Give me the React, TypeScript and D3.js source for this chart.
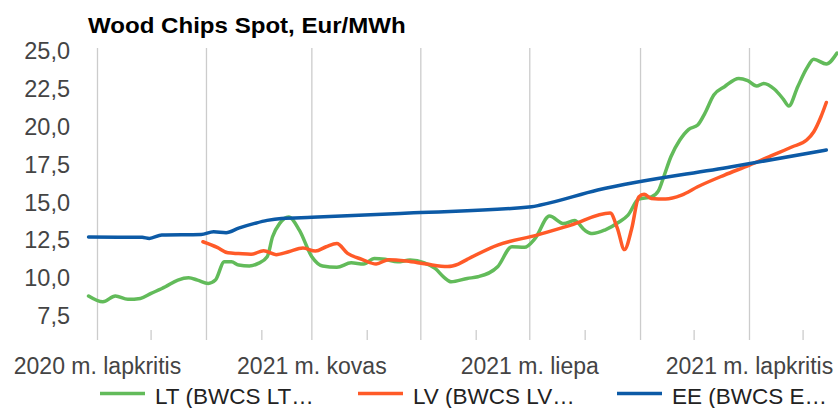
import React from "react";
import * as d3 from "d3";

const title = "Wood Chips Spot, Eur/MWh";
const yTicks = [7.5, 10, 12.5, 15, 17.5, 20, 22.5, 25];
const gridMonths = ["2020-11-01", "2021-01-01", "2021-03-01", "2021-05-01", "2021-07-01", "2021-09-01", "2021-11-01"];
const minorMonths = ["2020-12-01", "2021-02-01", "2021-04-01", "2021-06-01", "2021-08-01", "2021-10-01", "2021-12-01"];
const xLabelDates = ["2020-11-01", "2021-03-01", "2021-07-01", "2021-11-01"];
const xLabels = ["2020 m. lapkritis", "2021 m. kovas", "2021 m. liepa", "2021 m. lapkritis"];

const ltDates = ["2020-10-27","2020-11-04","2020-11-11","2020-11-18","2020-11-25","2020-12-01","2020-12-09","2020-12-16","2020-12-22","2020-12-27","2021-01-02","2021-01-06","2021-01-11","2021-01-15","2021-01-19","2021-01-25","2021-01-30","2021-02-04","2021-02-07","2021-02-11","2021-02-16","2021-02-22","2021-03-01","2021-03-07","2021-03-15","2021-03-23","2021-03-30","2021-04-05","2021-04-11","2021-04-18","2021-04-25","2021-05-03","2021-05-09","2021-05-14","2021-05-18","2021-05-27","2021-06-02","2021-06-13","2021-06-21","2021-06-28","2021-07-04","2021-07-12","2021-07-20","2021-07-26","2021-08-01","2021-08-05","2021-08-12","2021-08-20","2021-08-25","2021-08-31","2021-09-07","2021-09-11","2021-09-14","2021-09-18","2021-09-23","2021-09-28","2021-10-03","2021-10-07","2021-10-12","2021-10-18","2021-10-26","2021-10-31","2021-11-05","2021-11-09","2021-11-15","2021-11-20","2021-11-23","2021-11-28","2021-12-03","2021-12-07","2021-12-14","2021-12-20"];
const ltValues = [8.82,8.44,8.82,8.6,8.66,8.99,9.43,9.87,10.02,9.87,9.65,9.87,11.08,11.08,10.86,10.8,10.97,11.41,12.73,13.61,14.03,13.17,11.41,10.8,10.71,11.01,10.93,11.3,11.24,11.08,11.19,11.01,10.64,10.05,9.76,9.98,10.09,10.75,12.07,12.03,12.62,14.1,13.6,13.8,13.14,12.94,13.17,13.7,14.16,15.22,15.35,15.75,16.69,18.01,19.11,19.82,20.1,20.87,22.08,22.63,23.18,23.03,22.68,22.85,22.46,21.8,21.36,22.63,23.84,24.44,24.13,24.85];

const lvDates = ["2020-12-30","2021-01-07","2021-01-13","2021-01-19","2021-01-26","2021-02-02","2021-02-09","2021-02-16","2021-02-24","2021-03-03","2021-03-09","2021-03-15","2021-03-21","2021-03-29","2021-04-06","2021-04-13","2021-04-23","2021-05-04","2021-05-16","2021-05-22","2021-05-27","2021-06-13","2021-07-05","2021-07-24","2021-08-15","2021-08-19","2021-08-23","2021-08-27","2021-08-31","2021-09-03","2021-09-07","2021-09-15","2021-09-24","2021-10-03","2021-10-18","2021-11-01","2021-11-14","2021-11-25","2021-12-03","2021-12-07","2021-12-11","2021-12-14"];
const lvValues = [12.4,12.03,11.67,11.62,11.57,11.81,11.55,11.74,11.98,11.79,12.07,12.28,11.63,11.24,10.93,11.22,11.13,10.93,10.76,10.93,11.24,12.18,12.84,13.5,14.29,13.3,11.88,13.24,15.35,15.53,15.26,15.22,15.48,16.03,16.8,17.46,18.12,18.67,19.11,19.66,20.65,21.59];

const eeDates = ["2020-10-27","2020-11-26","2020-11-30","2020-12-07","2020-12-29","2021-01-05","2021-01-12","2021-01-19","2021-01-28","2021-02-04","2021-02-12","2021-03-01","2021-04-27","2021-07-02","2021-07-07","2021-08-08","2021-10-22","2021-12-14"];
const eeValues = [12.71,12.69,12.62,12.84,12.87,13.06,13.0,13.3,13.61,13.81,13.94,14.01,14.31,14.71,14.82,15.81,17.35,18.45];

const legendNames = ["LT (BWCS LT…", "LV (BWCS LV…", "EE (BWCS E…"];
const colors = ["#62bb5a", "#ff5a28", "#0c5aa6"];

const W = 838;
const H = 408;
const parse = d3.timeParse("%Y-%m-%d");

export default function App() {
  const x = d3.scaleTime()
    .domain([parse("2020-11-01")!, parse("2021-11-01")!])
    .range([97.5, 749.5]);
  const y = d3.scaleLinear().domain([7.5, 25]).range([316, 50.8]);
  const plotTop = 48;
  const plotBottom = 340;

  const line = d3.line<[Date, number]>()
    .x((d) => x(d[0]))
    .y((d) => y(d[1]))
    .curve(d3.curveMonotoneX);

  const series = [
    { dates: ltDates, values: ltValues },
    { dates: lvDates, values: lvValues },
    { dates: eeDates, values: eeValues },
  ].map((s) => s.dates.map((d, i) => [parse(d)!, s.values[i]] as [Date, number]));

  const fmt = (v: number) => v.toFixed(1).replace(".", ",");
  const font = "'Liberation Sans', Arial, sans-serif";
  const legendX = [100, 358, 617];

  return (
    <svg width={W} height={H} style={{ position: "absolute", left: 0, top: 0 }} fontFamily={font}>
      <rect width={W} height={H} fill="#ffffff" />
      <defs>
        <clipPath id="plot">
          <rect x={80} y={40} width={W - 80} height={310} />
        </clipPath>
      </defs>
      <text x={88} y={33} fontSize={22.5} fontWeight="bold" fill="#000" transform="translate(88,0) scale(1.07,1) translate(-88,0)">
        {title}
      </text>
      {gridMonths.map((d) => (
        <line key={d} x1={x(parse(d)!)} x2={x(parse(d)!)} y1={plotTop} y2={plotBottom} stroke="#cccccc" strokeWidth={1.3} />
      ))}
      {minorMonths.map((d) => (
        <line key={d} x1={x(parse(d)!)} x2={x(parse(d)!)} y1={plotBottom - 10} y2={plotBottom} stroke="#cccccc" strokeWidth={1.3} />
      ))}
      {yTicks.map((v) => (
        <text key={v} x={70} y={y(v) + 8.2} fontSize={23.5} fill="#444" textAnchor="end">
          {fmt(v)}
        </text>
      ))}
      {xLabelDates.map((d, i) => (
        <text key={d} x={x(parse(d)!)} y={374} fontSize={23} fill="#444" textAnchor="middle">
          {xLabels[i]}
        </text>
      ))}
      <g clipPath="url(#plot)">
        {series.map((s, i) => (
          <path key={i} d={line(s) || ""} fill="none" stroke={colors[i]} strokeWidth={3.5} strokeLinejoin="round" strokeLinecap="round" />
        ))}
      </g>
      {legendNames.map((n, i) => (
        <g key={n}>
          <line x1={legendX[i]} x2={legendX[i] + 45} y1={393.5} y2={393.5} stroke={colors[i]} strokeWidth={3.5} />
          <text x={legendX[i] + 55} y={404} fontSize={22.5} fill="#222">
            {n}
          </text>
        </g>
      ))}
    </svg>
  );
}
